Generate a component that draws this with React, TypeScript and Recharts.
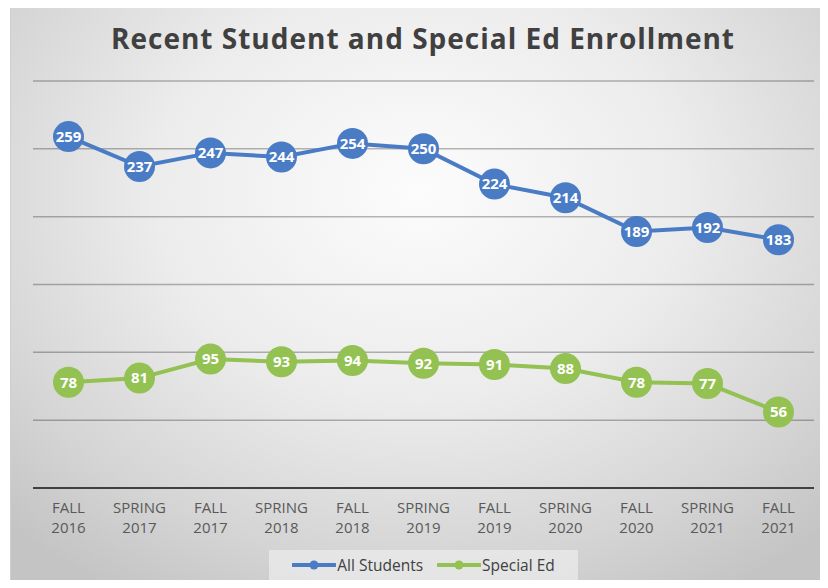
import React from 'react';
import { LineChart, Line, XAxis, YAxis, CartesianGrid, LabelList } from 'recharts';

const categories = ['FALL 2016', 'SPRING 2017', 'FALL 2017', 'SPRING 2018', 'FALL 2018', 'SPRING 2019', 'FALL 2019', 'SPRING 2020', 'FALL 2020', 'SPRING 2021', 'FALL 2021'];
const allStudents = [259, 237, 247, 244, 254, 250, 224, 214, 189, 192, 183];
const specialEd = [78, 81, 95, 93, 94, 92, 91, 88, 78, 77, 56];
const yTicks = [0, 50, 100, 150, 200, 250, 300];

const data = categories.map((c, i) => ({ cat: c, all: allStudents[i], sped: specialEd[i] }));

const BLUE = '#4a7cc6';
const GREEN = '#93c152';
const FONT = '"Open Sans", Lato, sans-serif';

const Tick = (props: any) => {
  const { x, y, payload } = props;
  const parts = String(payload.value).split(' ');
  return (
    <g>
      <text x={x} y={y + 24.5} textAnchor="middle" fill="#595959" fontSize={15} fontFamily={FONT}>{parts[0]}</text>
      <text x={x} y={y + 44.5} textAnchor="middle" fill="#595959" fontSize={15} fontFamily={FONT}>{parts[1]}</text>
    </g>
  );
};

const LegendItem = ({ color, label }: { color: string; label: string }) => (
  <div style={{ display: 'flex', alignItems: 'center' }}>
    <svg width={44} height={12} style={{ marginRight: 1 }}>
      <line x1={1} y1={6} x2={43} y2={6} stroke={color} strokeWidth={4} strokeLinecap="round" />
      <circle cx={22} cy={6} r={4.5} fill={color} />
    </svg>
    <span style={{ fontSize: 15.5, color: '#404040', fontFamily: FONT }}>{label}</span>
  </div>
);

export default function App() {
  return (
    <div style={{ position: 'relative', width: 828, height: 588, margin: -8, background: '#fff', overflow: 'hidden' }}>
      <div
        style={{
          position: 'absolute', left: 10, top: 4, width: 818, height: 584,
          background: 'radial-gradient(ellipse 72% 80% at 50% 32%, #fcfcfc 0%, #ececec 45%, #d4d4d4 80%, #c4c4c4 100%)',
          boxShadow: 'inset 0 0 0 1px #cfcfcf',
        }}
      />
      <div
        style={{
          position: 'absolute', left: 0, width: 846, top: 19, textAlign: 'center',
          fontFamily: FONT, fontWeight: 700, fontSize: 28, letterSpacing: 1, color: '#404040', whiteSpace: 'nowrap', lineHeight: '38px',
        }}
      >
        Recent Student and Special Ed Enrollment
      </div>
      <div style={{ position: 'absolute', left: 0, top: 0 }}>
        <LineChart width={828} height={588} data={data} margin={{ top: 81, right: 14, left: 33, bottom: 40 }}>
          <CartesianGrid horizontal vertical={false} stroke="#000" strokeOpacity={0.28} strokeWidth={1.5} />
          <YAxis hide domain={[0, 300]} ticks={yTicks} />
          <XAxis
            dataKey="cat"
            height={60}
            padding={{ left: 35.5, right: 35.5 }}
            axisLine={{ stroke: '#404040', strokeWidth: 2 }}
            tickLine={false}
            tickSize={0}
            tickMargin={0}
            interval={0}
            tick={<Tick />}
          />
          <Line type="linear" dataKey="all" stroke={BLUE} strokeWidth={4} dot={{ r: 15.5, fill: BLUE, stroke: 'none' }} activeDot={false} isAnimationActive={false}>
            <LabelList dataKey="all" position="center" fill="#fff" fontSize={15} fontWeight={700} fontFamily={FONT} />
          </Line>
          <Line type="linear" dataKey="sped" stroke={GREEN} strokeWidth={4} dot={{ r: 15.5, fill: GREEN, stroke: 'none' }} activeDot={false} isAnimationActive={false}>
            <LabelList dataKey="sped" position="center" fill="#fff" fontSize={15} fontWeight={700} fontFamily={FONT} />
          </Line>
        </LineChart>
      </div>
      <div
        style={{
          position: 'absolute', left: 269, top: 550, width: 309, height: 30,
          background: 'rgba(235,235,235,0.75)', display: 'flex', alignItems: 'center', justifyContent: 'center', gap: 14,
        }}
      >
        <LegendItem color={BLUE} label="All Students" />
        <LegendItem color={GREEN} label="Special Ed" />
      </div>
    </div>
  );
}
